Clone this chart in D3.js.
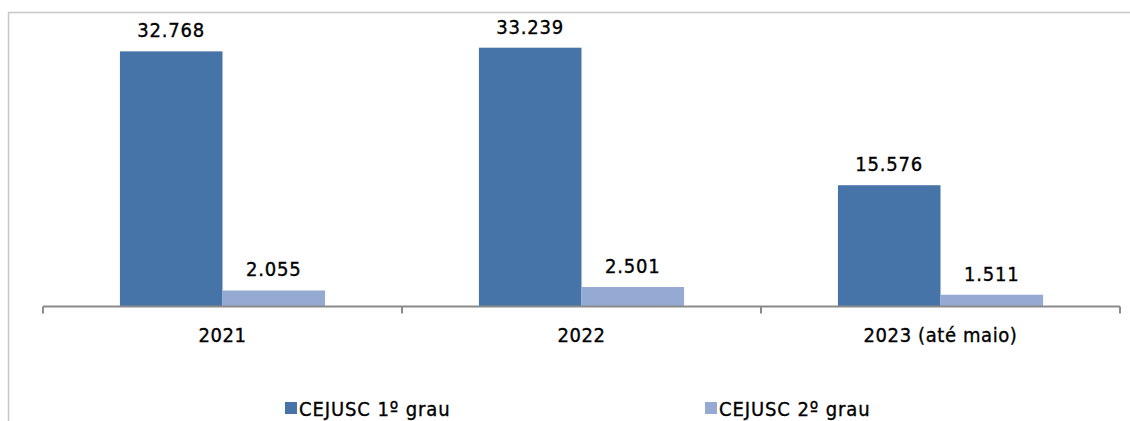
<!DOCTYPE html>
<html>
<head>
<meta charset="utf-8">
<script src="https://cdn.jsdelivr.net/npm/d3@7"></script>
<style>
  body { margin: 0; background: #fff; }
  text { font-family: "DejaVu Sans Condensed", "DejaVu Sans", sans-serif; font-stretch: condensed; fill: #000; stroke: #000; stroke-width: 0.35px; }
</style>
</head>
<body>
<div id="chart"></div>
<script>
// data
var categories = ["2021", "2022", "2023 (até maio)"];
var seriesNames = ["CEJUSC 1º grau", "CEJUSC 2º grau"];
var grau1 = [32768, 33239, 15576];
var grau2 = [2055, 2501, 1511];
var colors = ["#4673A8", "#95AAD2"];

var svgWidth = 1130;
var svgHeight = 421;

var svg = d3.select("#chart").append("svg")
    .attr("width", svgWidth)
    .attr("height", svgHeight);

// outer frame (only top and left visible)
svg.append("rect")
    .attr("x", 8.5).attr("y", 12.5)
    .attr("width", 1200).attr("height", 500)
    .attr("fill", "none")
    .attr("stroke", "#c6c6c6")
    .attr("stroke-width", 1.5);

var axisY = 306.5;

// scales
var x0 = d3.scaleBand()
    .domain(categories)
    .range([43, 1120]);

var x1 = d3.scaleBand()
    .domain(seriesNames)
    .range([0, x0.bandwidth()])
    .paddingOuter(0.75);

var y = d3.scaleLinear()
    .domain([0, 35000])
    .range([axisY, axisY - 35000 * 0.007786]);

var table = categories.map(function(c, i) {
    return { cat: c, values: [grau1[i], grau2[i]] };
});

// bars
var groups = svg.selectAll(".cat")
    .data(table)
    .enter().append("g")
    .attr("class", "cat")
    .attr("transform", d => `translate(${x0(d.cat)},0)`);

groups.selectAll("rect")
    .data(d => d.values.map((v, j) => ({ name: seriesNames[j], value: v, j: j })))
    .enter().append("rect")
    .attr("x", d => x1(d.name))
    .attr("y", d => y(d.value))
    .attr("width", x1.bandwidth())
    .attr("height", d => axisY - y(d.value))
    .attr("fill", d => colors[d.j]);

// value labels
var fmt = d3.formatLocale({ decimal: ",", thousands: ".", grouping: [3], currency: ["", ""] }).format(",d");

groups.selectAll(".vlabel")
    .data(d => d.values.map((v, j) => ({ name: seriesNames[j], value: v })))
    .enter().append("text")
    .attr("class", "vlabel")
    .attr("x", d => x1(d.name) + x1.bandwidth() / 2)
    .attr("y", d => y(d.value) - 14)
    .attr("text-anchor", "middle")
    .style("font-size", "20px")
    .style("letter-spacing", "0.8px")
    .text(d => fmt(d.value));

// x axis
var bottomAxis = d3.axisBottom(x0).tickSize(0).tickPadding(0);
var axisG = svg.append("g")
    .attr("transform", `translate(0, ${axisY})`)
    .call(bottomAxis);
axisG.select(".domain").remove();
axisG.selectAll("text").remove();

axisG.append("line")
    .attr("x1", 43).attr("x2", 1120)
    .attr("y1", 0).attr("y2", 0)
    .attr("stroke", "#8a8a8a").attr("stroke-width", 2);

var tickPos = categories.map(c => x0(c)).concat([x0.range()[1]]);
axisG.selectAll(".tk")
    .data(tickPos)
    .enter().append("line")
    .attr("x1", d => d).attr("x2", d => d)
    .attr("y1", 0).attr("y2", 7)
    .attr("stroke", "#8a8a8a").attr("stroke-width", 2);

svg.selectAll(".clabel")
    .data(categories)
    .enter().append("text")
    .attr("class", "clabel")
    .attr("x", d => x0(d) + x0.bandwidth() / 2)
    .attr("y", 342)
    .attr("text-anchor", "middle")
    .style("font-size", "20px")
    .style("letter-spacing", "0.6px")
    .text(d => d);

// legend
var legendX = [285, 705];
var legend = svg.selectAll(".legend")
    .data(seriesNames)
    .enter().append("g")
    .attr("class", "legend")
    .attr("transform", (d, i) => `translate(${legendX[i]}, 402)`);

legend.append("rect")
    .attr("width", 12).attr("height", 12)
    .attr("fill", (d, i) => colors[i]);

legend.append("text")
    .attr("x", 14)
    .attr("y", 13.5)
    .style("font-size", "20px")
    .style("letter-spacing", "0.9px")
    .text(d => d);
</script>
</body>
</html>
